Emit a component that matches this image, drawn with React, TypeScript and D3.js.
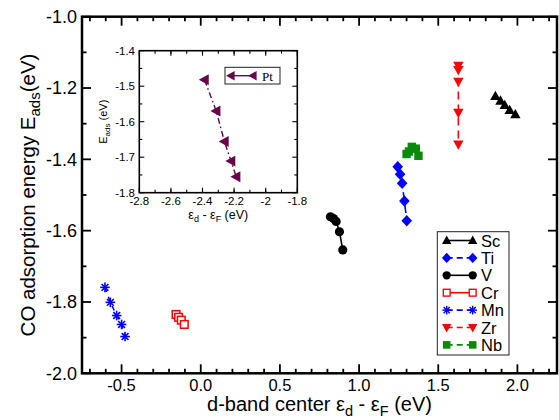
import React from "react";
import * as d3 from "d3";

// ---- data ----
const scX = [1.861, 1.893, 1.92, 1.951, 1.987];
const scY = [-1.223, -1.236, -1.248, -1.262, -1.274];
const tiX = [1.244, 1.259, 1.272, 1.286, 1.301];
const tiY = [-1.421, -1.442, -1.467, -1.517, -1.572];
const vX = [0.819, 0.838, 0.855, 0.876, 0.897];
const vY = [-1.561, -1.566, -1.574, -1.603, -1.654];
const crX = [-0.156, -0.14, -0.123, -0.104];
const crY = [-1.835, -1.843, -1.851, -1.863];
const mnX = [-0.605, -0.571, -0.531, -0.5, -0.478];
const mnY = [-1.759, -1.801, -1.838, -1.863, -1.897];
const zrX = [1.627, 1.627, 1.627, 1.627, 1.627];
const zrY = [-1.137, -1.149, -1.182, -1.269, -1.358];
const nbX = [1.3, 1.315, 1.333, 1.358, 1.375];
const nbY = [-1.385, -1.378, -1.365, -1.37, -1.39];
const ptX = [-2.387, -2.313, -2.261, -2.219, -2.187];
const ptY = [-1.482, -1.57, -1.656, -1.711, -1.755];

const mainXTicks = [-0.5, 0.0, 0.5, 1.0, 1.5, 2.0];
const mainYTicks = [-2.0, -1.8, -1.6, -1.4, -1.2, -1.0];
const insetXTicks = [-2.8, -2.6, -2.4, -2.2, -2.0, -1.8];
const insetYTicks = [-1.8, -1.7, -1.6, -1.5, -1.4];
const seriesNames = ["Sc", "Ti", "V", "Cr", "Mn", "Zr", "Nb"];

// ---- styles ----
const FONT = "'Liberation Sans', Arial, Helvetica, sans-serif";
const GREEN = "#0a8a0a";
const PURPLE = "#670748";

type Marker = "triUp" | "triDown" | "triLeft" | "diamond" | "circle" | "square" | "squareOpen" | "star";

function MarkerShape({ x, y, type, color, s = 1 }: { x: number; y: number; type: Marker; color: string; s?: number }) {
  const t = `translate(${x},${y}) scale(${s})`;
  switch (type) {
    case "triUp":
      return <path transform={t} d="M0,-5.5L5.2,3.8L-5.2,3.8Z" fill={color} />;
    case "triDown":
      return <path transform={t} d="M0,5.5L5.2,-3.8L-5.2,-3.8Z" fill={color} />;
    case "triLeft":
      return <path transform={t} d="M-5.5,0L4,-5.2L4,5.2Z" fill={color} />;
    case "diamond":
      return <path transform={t} d="M0,-5.8L5.3,0L0,5.8L-5.3,0Z" fill={color} />;
    case "circle":
      return <circle transform={t} r={4.6} fill={color} />;
    case "square":
      return <rect transform={t} x={-4.2} y={-4.2} width={8.4} height={8.4} fill={color} />;
    case "squareOpen":
      return <rect transform={t} x={-3.8} y={-3.8} width={7.6} height={7.6} fill="white" stroke={color} strokeWidth={1.5} />;
    case "star": {
      const r = 4.8;
      const a = [0, 45, 90, 135].map((d) => (d * Math.PI) / 180);
      return (
        <g transform={t} stroke={color} strokeWidth={1.6}>
          {a.map((ang, i) => (
            <line key={i} x1={-r * Math.cos(ang)} y1={-r * Math.sin(ang)} x2={r * Math.cos(ang)} y2={r * Math.sin(ang)} />
          ))}
        </g>
      );
    }
  }
  return null;
}

export default function App() {
  const W = 559, H = 420;
  const x = d3.scaleLinear().domain([-0.75, 2.25]).range([82, 557]);
  const y = d3.scaleLinear().domain([-2.0, -1.0]).range([373.3, 16.7]);
  const xi = d3.scaleLinear().domain([-2.8, -1.8]).range([139.3, 297.3]);
  const yi = d3.scaleLinear().domain([-1.8, -1.4]).range([192.7, 50.7]);

  const series = [
    { name: seriesNames[0], xs: scX, ys: scY, color: "#000", marker: "triUp" as Marker, dash: "" },
    { name: seriesNames[1], xs: tiX, ys: tiY, color: "#0000ff", marker: "diamond" as Marker, dash: "8,5" },
    { name: seriesNames[2], xs: vX, ys: vY, color: "#000", marker: "circle" as Marker, dash: "" },
    { name: seriesNames[3], xs: crX, ys: crY, color: "#ff0000", marker: "squareOpen" as Marker, dash: "" },
    { name: seriesNames[4], xs: mnX, ys: mnY, color: "#0000ff", marker: "star" as Marker, dash: "5,5" },
    { name: seriesNames[5], xs: zrX, ys: zrY, color: "#ff0000", marker: "triDown" as Marker, dash: "8,5" },
    { name: seriesNames[6], xs: nbX, ys: nbY, color: GREEN, marker: "square" as Marker, dash: "5,5" },
  ];

  const lineGen = d3.line<[number, number]>().x((d) => x(d[0])).y((d) => y(d[1]));
  const lineIn = d3.line<[number, number]>().x((d) => xi(d[0])).y((d) => yi(d[1]));

  const [x0, x1] = x.range();
  const [y0, y1] = [y(-1.0), y(-2.0)];
  const xMinor = d3.range(-0.7, 2.25, 0.1).map((v) => +v.toFixed(2));
  const yMinor = d3.range(-1.9, -1.0, 0.1).map((v) => +v.toFixed(2));

  const [ix0, ix1] = xi.range();
  const [iy0, iy1] = [yi(-1.4), yi(-1.8)];
  const ixMinor = d3.range(-2.7, -1.8, 0.1).map((v) => +v.toFixed(2));
  const iyMinor = d3.range(-1.75, -1.4, 0.1).map((v) => +v.toFixed(2));

  const fmtIn = (v: number) => String(+v.toFixed(1));

  return (
    <svg width={W} height={H} style={{ position: "absolute", left: 0, top: 0, background: "#fff" }} fontFamily={FONT}>
      <rect width={W} height={H} fill="#fff" />
      {/* main ticks */}
      <g stroke="#000" strokeWidth={1.8}>
        {mainXTicks.map((v) => (
          <g key={"mx" + v}>
            <line x1={x(v)} x2={x(v)} y1={y1} y2={y1 - 9} />
            <line x1={x(v)} x2={x(v)} y1={y0} y2={y0 + 9} />
          </g>
        ))}
        {xMinor.filter((v) => !mainXTicks.some((m) => Math.abs(m - v) < 1e-6)).map((v) => (
          <g key={"mnx" + v}>
            <line x1={x(v)} x2={x(v)} y1={y1} y2={y1 - 4.5} />
            <line x1={x(v)} x2={x(v)} y1={y0} y2={y0 + 4.5} />
          </g>
        ))}
        {mainYTicks.map((v) => (
          <g key={"my" + v}>
            <line x1={x0} x2={x0 + 9} y1={y(v)} y2={y(v)} />
            <line x1={x1} x2={x1 - 9} y1={y(v)} y2={y(v)} />
          </g>
        ))}
        {yMinor.filter((v) => !mainYTicks.some((m) => Math.abs(m - v) < 1e-6)).map((v) => (
          <g key={"mny" + v}>
            <line x1={x0} x2={x0 + 4.5} y1={y(v)} y2={y(v)} />
            <line x1={x1} x2={x1 - 4.5} y1={y(v)} y2={y(v)} />
          </g>
        ))}
      </g>
      <rect x={x0} y={y0} width={x1 - x0} height={y1 - y0} fill="none" stroke="#000" strokeWidth={2.5} />

      {/* main tick labels */}
      <g fill="#000">
        {mainXTicks.map((v) => (
          <text key={"lx" + v} x={x(v)} y={391} textAnchor="middle" fontSize={16.5}>
            {v.toFixed(1)}
          </text>
        ))}
        {mainYTicks.map((v) => (
          <text key={"ly" + v} x={77} y={y(v) + 6.3} textAnchor="end" fontSize={18}>
            {v.toFixed(1)}
          </text>
        ))}
      </g>

      {/* axis titles */}
      <text x={(x0 + x1) / 2} y={411} textAnchor="middle" fontSize={20}>
        d-band center ε<tspan dy={5} fontSize={14.5}>d</tspan>
        <tspan dy={-5}> - ε</tspan>
        <tspan dy={5} fontSize={14.5}>F</tspan>
        <tspan dy={-5}> (eV)</tspan>
      </text>
      <text transform={`translate(35,${(y0 + y1) / 2}) rotate(-90)`} textAnchor="middle" fontSize={20.5}>
        CO adsorption energy E<tspan dy={5} fontSize={15}>ads</tspan>
        <tspan dy={-5}>(eV)</tspan>
      </text>

      {/* series */}
      {series.map((s) => {
        const pts = s.xs.map((v, i) => [v, s.ys[i]] as [number, number]);
        return (
          <g key={s.name}>
            <path d={lineGen(pts) || ""} fill="none" stroke={s.color} strokeWidth={1.6} strokeDasharray={s.dash || undefined} />
            {pts.map((p, i) => (
              <MarkerShape key={i} x={x(p[0])} y={y(p[1])} type={s.marker} color={s.color} />
            ))}
          </g>
        );
      })}

      {/* legend */}
      <rect x={437.3} y={231.7} width={71.7} height={123.3} fill="#fff" stroke="#222" strokeWidth={1} />
      {series.map((s, i) => {
        const ly = 240.5 + i * 17.4;
        return (
          <g key={"leg" + s.name}>
            <line x1={446.7} x2={472.7} y1={ly} y2={ly} stroke={s.color} strokeWidth={1.6} strokeDasharray={s.dash ? "6,4" : undefined} />
            <MarkerShape x={446.7} y={ly} type={s.marker} color={s.color} s={0.9} />
            <MarkerShape x={472.7} y={ly} type={s.marker} color={s.color} s={0.9} />
            <text x={481} y={ly + 6} fontSize={16.5}>
              {s.name}
            </text>
          </g>
        );
      })}

      {/* inset */}
      <rect x={ix0} y={iy0} width={ix1 - ix0} height={iy1 - iy0} fill="#fff" />
      <g stroke="#000" strokeWidth={1.1}>
        {insetXTicks.map((v) => (
          <g key={"ix" + v}>
            <line x1={xi(v)} x2={xi(v)} y1={iy1} y2={iy1 - 5} />
            <line x1={xi(v)} x2={xi(v)} y1={iy0} y2={iy0 + 5} />
          </g>
        ))}
        {ixMinor.map((v) => (
          <g key={"inx" + v}>
            <line x1={xi(v)} x2={xi(v)} y1={iy1} y2={iy1 - 3} />
            <line x1={xi(v)} x2={xi(v)} y1={iy0} y2={iy0 + 3} />
          </g>
        ))}
        {insetYTicks.map((v) => (
          <g key={"iy" + v}>
            <line x1={ix0} x2={ix0 + 5} y1={yi(v)} y2={yi(v)} />
            <line x1={ix1} x2={ix1 - 5} y1={yi(v)} y2={yi(v)} />
          </g>
        ))}
        {iyMinor.map((v) => (
          <g key={"iny" + v}>
            <line x1={ix0} x2={ix0 + 3} y1={yi(v)} y2={yi(v)} />
            <line x1={ix1} x2={ix1 - 3} y1={yi(v)} y2={yi(v)} />
          </g>
        ))}
      </g>
      <rect x={ix0} y={iy0} width={ix1 - ix0} height={iy1 - iy0} fill="none" stroke="#000" strokeWidth={1.6} />
      <g fontSize={11.5}>
        {insetXTicks.map((v) => (
          <text key={"ilx" + v} x={xi(v)} y={iy1 + 12} textAnchor="middle">
            {fmtIn(v)}
          </text>
        ))}
        {insetYTicks.map((v) => (
          <text key={"ily" + v} x={135} y={yi(v) + 4} textAnchor="end">
            {fmtIn(v)}
          </text>
        ))}
      </g>
      <text x={(ix0 + ix1) / 2} y={219} textAnchor="middle" fontSize={12.5}>
        ε<tspan dy={3} fontSize={9}>d</tspan>
        <tspan dy={-3}> - ε</tspan>
        <tspan dy={3} fontSize={9}>F</tspan>
        <tspan dy={-3}> (eV)</tspan>
      </text>
      <text transform={`translate(107,${(iy0 + iy1) / 2}) rotate(-90)`} textAnchor="middle" fontSize={11}>
        E<tspan dy={3} fontSize={8}>ads</tspan>
        <tspan dy={-3}> (eV)</tspan>
      </text>
      {(() => {
        const pts = ptX.map((v, i) => [v, ptY[i]] as [number, number]);
        return (
          <g>
            <path d={lineIn(pts) || ""} fill="none" stroke={PURPLE} strokeWidth={1.4} strokeDasharray="6,3,1.5,3" />
            {pts.map((p, i) => (
              <MarkerShape key={i} x={xi(p[0])} y={yi(p[1])} type="triLeft" color={PURPLE} s={1.05} />
            ))}
          </g>
        );
      })()}
      <rect x={225} y={67.3} width={55} height={16.7} fill="#fff" stroke="#222" strokeWidth={1} />
      <line x1={231} x2={253} y1={75.7} y2={75.7} stroke={PURPLE} strokeWidth={1.4} />
      <MarkerShape x={231} y={75.7} type="triLeft" color={PURPLE} s={0.9} />
      <MarkerShape x={253} y={75.7} type="triLeft" color={PURPLE} s={0.9} />
      <text x={262} y={80.5} fontSize={13} fontFamily="'Liberation Serif', 'Times New Roman', serif">
        Pt
      </text>
    </svg>
  );
}
